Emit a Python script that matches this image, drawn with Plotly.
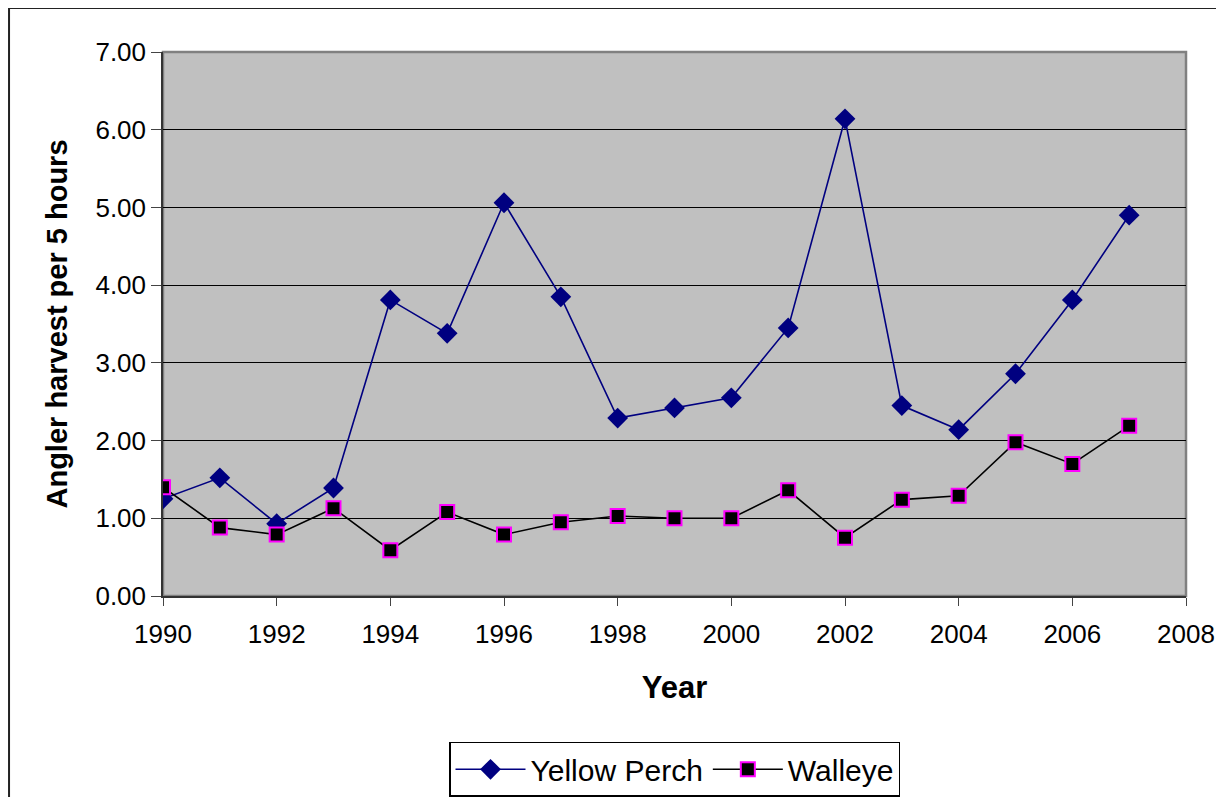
import plotly.graph_objects as go

years = list(range(1990, 2008))
yellow_perch = [1.25, 1.52, 0.93, 1.39, 3.81, 3.38, 5.06, 3.85, 2.29, 2.42,
                2.55, 3.45, 6.14, 2.45, 2.14, 2.86, 3.81, 4.90]
walleye = [1.40, 0.88, 0.79, 1.13, 0.59, 1.08, 0.79, 0.95, 1.03, 1.00,
           1.00, 1.36, 0.75, 1.24, 1.29, 1.98, 1.70, 2.19]

font = "Liberation Sans, Arial, sans-serif"

fig = go.Figure()
fig.add_trace(go.Scatter(x=years, y=yellow_perch, name="Yellow Perch",
                         mode="lines+markers",
                         line=dict(color="#000080", width=1.6),
                         marker=dict(symbol="diamond", size=16, color="#000080")))
fig.add_trace(go.Scatter(x=years, y=walleye, name="Walleye",
                         mode="lines+markers",
                         line=dict(color="#000000", width=1.6),
                         marker=dict(symbol="square", size=14, color="#000000",
                                     line=dict(color="#FF00FF", width=2))))

# outer chart border
fig.add_shape(type="rect", xref="paper", yref="paper",
              x0=-0.1505, x1=1.2, y0=-0.5, y1=1.081,
              line=dict(color="#222222", width=2), layer="below")

# plot area edge in gray
fig.add_shape(type="rect", xref="paper", yref="paper", x0=0, x1=1, y0=0, y1=1,
              line=dict(color="#808080", width=2.5), layer="below")

fig.update_layout(
    width=1216, height=789,
    margin=dict(l=155, r=38, t=44, b=201, autoexpand=False),
    paper_bgcolor="white", plot_bgcolor="#C0C0C0",
    font=dict(family=font, size=26, color="black"),
    showlegend=True,
    legend=dict(orientation="h", x=0.5, xanchor="center", y=-0.268, yanchor="top",
                bordercolor="black", borderwidth=1.5, bgcolor="white",
                font=dict(size=30), itemwidth=70, tracegroupgap=0),
    xaxis=dict(range=[1990, 2008], dtick=2, tick0=1990, showgrid=False,
               ticks="outside", ticklen=8, tickcolor="#444444", ticklabelstandoff=6,
               showline=True, linecolor="#333333", linewidth=1.5, zeroline=False,
               title=dict(text="<b>Year</b>", font=dict(size=31), standoff=28)),
    yaxis=dict(range=[0, 7], dtick=1, tickformat=".2f", showgrid=True,
               gridcolor="black", gridwidth=1,
               ticks="outside", ticklen=10, tickcolor="#444444",
               showline=True, linecolor="#333333", linewidth=1.5, zeroline=False,
               title=dict(text="<b>Angler harvest per 5 hours</b>", font=dict(size=29),
                          standoff=19)),
)

fig.write_html("out.html")
